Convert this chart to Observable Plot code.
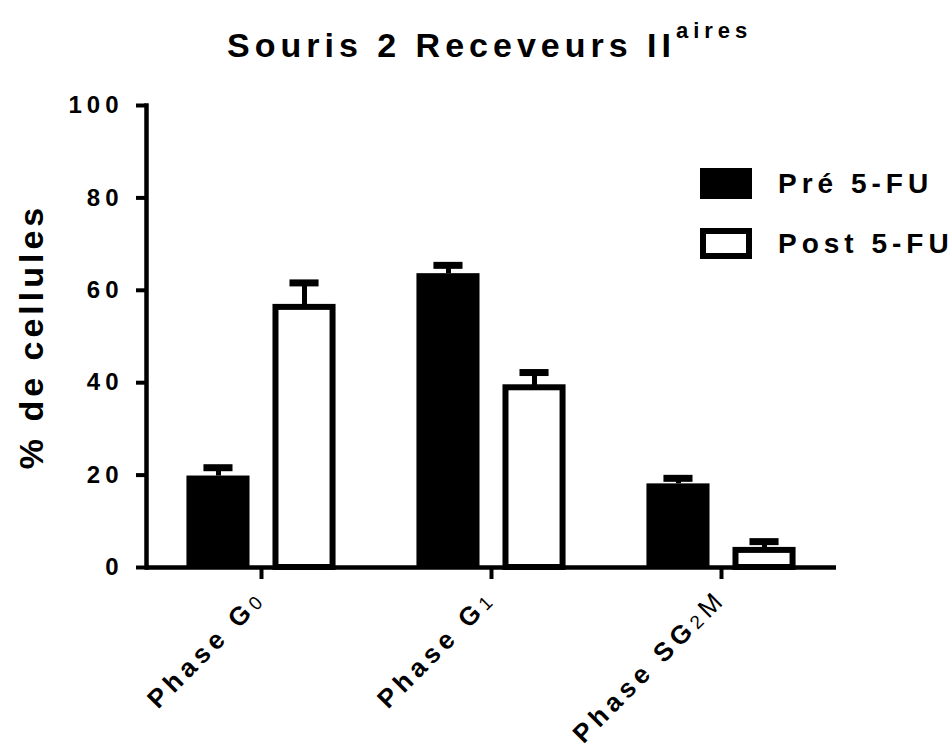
<!DOCTYPE html>
<html><head><meta charset="utf-8">
<script src="https://cdn.jsdelivr.net/npm/d3@7"></script>
<script src="https://cdn.jsdelivr.net/npm/@observablehq/plot@0.6"></script>
<style>
body{margin:0;background:#fff;}
#wrap{position:relative;width:952px;height:747px;font-family:"Liberation Sans",Arial,sans-serif;color:#000;}
#chart{position:absolute;left:0;top:0;}
#title{position:absolute;left:227px;top:28px;font-size:34px;font-weight:bold;letter-spacing:5px;line-height:34px;white-space:nowrap;}
#title .sup{font-size:22px;position:relative;top:-19px;}
#legend{position:absolute;left:700px;top:168px;}
.item{position:absolute;left:0;white-space:nowrap;}
.sw{position:absolute;left:0;top:0;width:52px;height:31px;box-sizing:border-box;}
.lt{position:absolute;left:78px;top:0;font-size:28px;font-weight:bold;letter-spacing:5px;line-height:31px;}
svg text{font-family:"Liberation Sans",Arial,sans-serif;}
[aria-label="y-axis tick label"]{letter-spacing:5px;}
[aria-label="fx-axis tick label"]{letter-spacing:5px;}
[aria-label="y-axis label"] text{font-size:34px;letter-spacing:4px;font-weight:bold;}
</style>
</head><body>
<div id="wrap">
  <div id="chart"></div>
  <div id="title"></div>
  <div id="legend"></div>
</div>
<script>
const titleMain = "Souris 2 Receveurs II";
const titleSup = "aires";
const phases = ["Phase G0", "Phase G1", "Phase SG2M"];
const phaseLabelParts = [["Phase G", "0", ""], ["Phase G", "1", ""], ["Phase SG", "2", "M"]];
const series = ["Pré 5-FU", "Post 5-FU"];
const preMean = [19.8, 63.6, 18.1];
const preSem = [1.8, 1.8, 1.2];
const postMean = [56.3, 38.9, 3.7];
const postSem = [5.3, 3.3, 1.9];
const yTicks = [0, 20, 40, 60, 80, 100];
const yLabel = "% de cellules";

const rows = phases.flatMap((p, i) => [
  {phase: p, series: series[0], mean: preMean[i], sem: preSem[i]},
  {phase: p, series: series[1], mean: postMean[i], sem: postSem[i]}
]);
const pre = rows.filter(d => d.series === series[0]);
const post = rows.filter(d => d.series === series[1]);

const chart = Plot.plot({
  width: 952, height: 747,
  marginLeft: 146, marginRight: 116, marginTop: 105, marginBottom: 180,
  style: {fontFamily: '"Liberation Sans", Arial, sans-serif', color: "black", background: "transparent", overflow: "visible"},
  fx: {domain: phases, padding: 0, round: false},
  x: {domain: series, paddingInner: 0.267, paddingOuter: 0.47, round: false, axis: null},
  y: {domain: [0, 100]},
  marks: [
    Plot.barY(pre, {fx: "phase", x: "series", y: "mean", fill: "black"}),
    Plot.barY(post, {fx: "phase", x: "series", y: "mean", fill: "white", stroke: "black", strokeWidth: 6, insetLeft: 3, insetRight: 3}),
    Plot.ruleX(rows, {fx: "phase", x: "series", y1: "mean", y2: d => d.mean + d.sem, stroke: "black", strokeWidth: 5}),
    Plot.tickY(rows, {fx: "phase", x: "series", y: d => d.mean + d.sem, stroke: "black", strokeWidth: 7, insetLeft: 17, insetRight: 17}),
    Plot.ruleY([0], {stroke: "black", strokeWidth: 4.5}),
    Plot.frame({anchor: "left", facetAnchor: "left", stroke: "black", strokeWidth: 4.5}),
    Plot.axisY({ticks: yTicks, tickSize: 10, tickPadding: 13, stroke: "black", strokeWidth: 4, fontSize: 24, fontWeight: "bold",
      label: yLabel, labelAnchor: "center", labelArrow: "none", labelOffset: 128}),
    Plot.axisFx({anchor: "bottom", tickSize: 12, tickPadding: 15, tickRotate: -45, stroke: "black", strokeWidth: 4, fontSize: 26, fontWeight: "bold", label: null})
  ]
});
document.getElementById("chart").appendChild(chart);

// rich tick labels (subscripts)
const NS = "http://www.w3.org/2000/svg";
chart.querySelectorAll('[aria-label="fx-axis tick label"] text').forEach(t => {
  const i = phases.indexOf(t.textContent);
  if (i < 0) return;
  const [a, b, c] = phaseLabelParts[i];
  t.textContent = "";
  const s1 = document.createElementNS(NS, "tspan"); s1.textContent = a; t.appendChild(s1);
  const s2 = document.createElementNS(NS, "tspan"); s2.textContent = b;
  s2.setAttribute("font-size", "19"); s2.setAttribute("font-weight", "normal"); t.appendChild(s2);
  if (c) {
    const s3 = document.createElementNS(NS, "tspan"); s3.textContent = c;
    s3.setAttribute("font-weight", "normal"); t.appendChild(s3);
  }
});

// title
const title = document.getElementById("title");
title.appendChild(document.createTextNode(titleMain));
const sup = document.createElement("span"); sup.className = "sup"; sup.textContent = titleSup;
title.appendChild(sup);

// legend
const legend = document.getElementById("legend");
series.forEach((s, i) => {
  const item = document.createElement("div");
  item.className = "item"; item.style.top = (i * 60) + "px";
  const sw = document.createElement("div"); sw.className = "sw";
  if (i === 0) sw.style.background = "#000";
  else { sw.style.background = "#fff"; sw.style.border = "6px solid #000"; }
  const lt = document.createElement("div"); lt.className = "lt"; lt.textContent = s;
  item.appendChild(sw); item.appendChild(lt);
  legend.appendChild(item);
});
</script>
</body></html>
